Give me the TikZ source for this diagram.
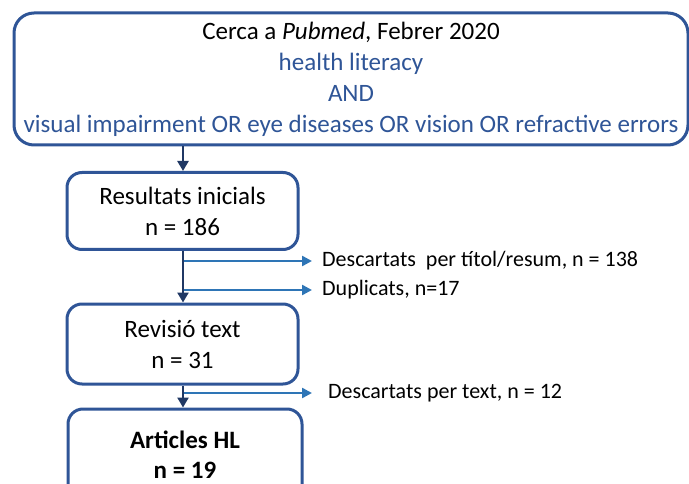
\documentclass[tikz,border=0pt]{standalone}
\usepackage{fontspec}
\setmainfont{Carlito}
\usetikzlibrary{arrows.meta,calc}
\definecolor{boxblue}{HTML}{2F5597}
\definecolor{navy}{HTML}{203864}
\definecolor{linkblue}{HTML}{2E75B6}
\definecolor{termblue}{HTML}{2F5597}
\tikzset{
  stage/.style={draw=boxblue, line width=3pt, rounded corners=15pt, fill=white,
    align=center, inner sep=0pt, font=\fontsize{25}{31}\selectfont},
  flow/.style={draw=navy, line width=2.8pt, -{Triangle[length=10pt,width=11pt]}},
  branch/.style={draw=linkblue, line width=2.4pt, -{Triangle[length=10pt,width=10pt]}},
  note/.style={anchor=west, inner sep=0pt, font=\fontsize{22}{24}\selectfont}
}
\begin{document}
\begin{tikzpicture}[x=1pt, y=-1pt]
\useasboundingbox (0,0) rectangle (689,484);
\clip (0,0) rectangle (689,484);

% search box
\node[stage, rounded corners=20pt, minimum width=674pt, minimum height=132pt]
  (search) at (351,79)
  {Cerca a \textit{Pubmed}, Febrer 2020\\
   \textcolor{termblue}{health literacy}\\
   \textcolor{termblue}{AND}\\
   \textcolor{termblue}{visual impairment OR eye diseases OR vision OR refractive errors}};

% stages
\node[stage, minimum width=231pt, minimum height=77pt] (res) at (182.5,211)
  {Resultats inicials\\ n = 186};
\node[stage, minimum width=231pt, minimum height=80pt] (rev) at (182.5,344)
  {Revisió text\\ n = 31};
\node[stage, minimum width=234pt, minimum height=92pt, font=\fontsize{25}{30}\selectfont\bfseries]
  (art) at (185,455) {Articles HL\\ n = 19};

% main flow
\draw[flow] (search.south -| 183,0) -- (res.north -| 183,0);
\draw[flow] (res.south -| 183,0) -- (rev.north -| 183,0);
\draw[flow] (rev.south -| 183,0) -- (art.north -| 183,0);

% exclusions
\coordinate (b1) at (184,261);
\coordinate (b2) at (184,290);
\coordinate (b3) at (184,393);
\node[note] (l1) at (322,261) {Descartats\ \ per títol/resum, n = 138};
\node[note] (l2) at (322,290) {Duplicats, n=17};
\node[note] (l3) at (328,393) {Descartats per text, n = 12};
\draw[branch] (b1) -- ([xshift=-10pt]l1.west);
\draw[branch] (b2) -- ([xshift=-10pt]l2.west);
\draw[branch] (b3) -- ([xshift=-16pt]l3.west);
\end{tikzpicture}
\end{document}
